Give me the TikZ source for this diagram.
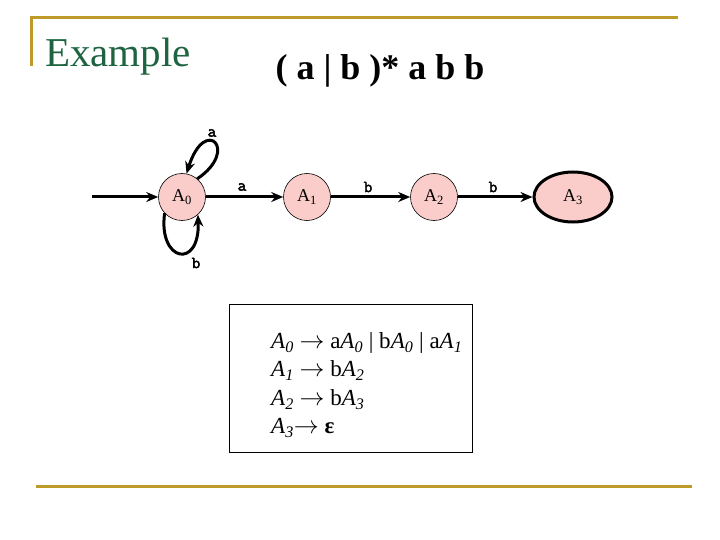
\documentclass[tikz,border=0pt]{standalone}
\usepackage{fontspec}
\setmainfont{Liberation Serif}
\newfontfamily\courb[FakeBold=2.5]{Latin Modern Mono}
\usetikzlibrary{arrows.meta,shapes.geometric}
\definecolor{gold}{RGB}{190,155,40}
\definecolor{titlegreen}{RGB}{30,100,65}
\definecolor{statefill}{RGB}{250,205,203}
\newcommand{\Ast}[1]{A\textsubscript{#1}}
\newcommand{\Ai}[1]{\textit{A}\textsubscript{\textit{#1}}}
\begin{document}
\begin{tikzpicture}[x=1pt,y=-1pt,
  state/.style={circle,draw=black,line width=0.6pt,fill=statefill,minimum size=47pt,inner sep=0pt,font=\fontsize{18}{18}\selectfont},
  final/.style={ellipse,draw=black,line width=3pt,fill=statefill,minimum width=78pt,minimum height=50pt,inner sep=0pt,font=\fontsize{18}{18}\selectfont},
  edge/.style={line width=3pt,-{Stealth[length=12pt,width=10pt]}},
  elabel/.style={font=\courb\fontsize{17}{17}\selectfont,inner sep=0pt},
  goldline/.style={draw=gold,line width=3pt}]
\useasboundingbox (0,0) rectangle (720,540);
\draw[goldline] (31,66) -- (31,18) -- (678,18);
\draw[goldline] (36,486) -- (692,486);
\node[anchor=base west,text=titlegreen,font=\fontsize{41}{41}\selectfont,inner sep=0pt] (ex) at (45,67) {Example};
\node[anchor=base,font=\bfseries\fontsize{36}{36}\selectfont,inner sep=0pt] (re) at (380,80) {( a | b )* a b b};
\node[state] (A0) at (182,197) {\Ast{0}};
\node[state] (A1) at (307,197) {\Ast{1}};
\node[state] (A2) at (434,197) {\Ast{2}};
\node[final] (A3) at (573,197) {\Ast{3}};
\coordinate (start) at (92,197);
\draw[edge] (start) -- (A0);
\draw[edge] (A0) -- (A1);
\draw[edge] (A1) -- (A2);
\draw[edge] (A2) -- (A3);
\draw[edge] (A0.50) .. controls (240,150) and (205,115) .. (A0.79);
\draw[edge] (A0.223) .. controls (158,262) and (200,270) .. (A0.-48);
\node[elabel] (la0) at (212,133) {a};
\node[elabel] (lb0) at (196,263) {b};
\node[elabel] (la1) at (242,187) {a};
\node[elabel] (lb1) at (368,187) {b};
\node[elabel] (lb2) at (493,187) {b};
\node[draw=black,line width=0.8pt,minimum width=243pt,minimum height=148pt,inner sep=0pt] (box) at (350.5,378) {};
\node[anchor=west,inner sep=0pt,font=\fontsize{23}{28.5}\selectfont,align=left] (g) at (271,385)
{\Ai{0} $\rightarrow$ a\Ai{0} | b\Ai{0} | a\Ai{1}\\
 \Ai{1} $\rightarrow$ b\Ai{2}\\
 \Ai{2} $\rightarrow$ b\Ai{3}\\
 \Ai{3}$\rightarrow$ \textbf{ε}};
\end{tikzpicture}
\end{document}
